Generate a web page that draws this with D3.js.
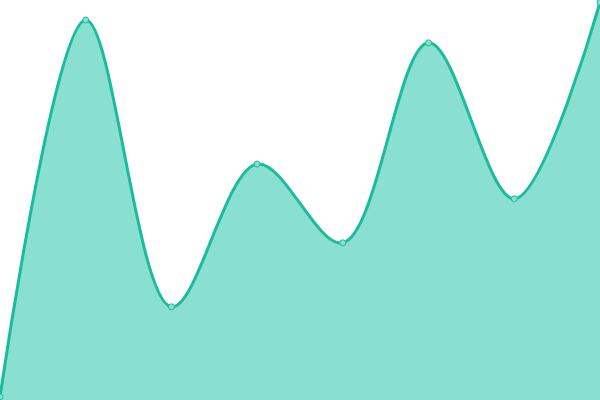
<!DOCTYPE html>
<html lang="en">
	<head>
		<meta charset="UTF-8" />
		<script src="https://d3js.org/d3.v7.min.js"></script>
		<title>Area</title>
		<style>
			body { margin: 0; }
			svg { display: block; }
		</style>
	</head>
	<body>
		<svg width="600" height="400"></svg>
		<script>
			const labels = ["A", "B", "C", "D", "E", "F", "G", "H"];
			const values = [0.8, 95, 23.3, 59, 39.3, 89.3, 50.3, 99.4];

			const width = 600, height = 400;
			const svg = d3.select("svg");

			const x = d3.scalePoint().domain(labels).range([0, width]);
			const y = d3.scaleLinear().domain([0, 100]).range([height, 0]);

			const data = labels.map((l, i) => ({ l, v: values[i] }));

			const area = d3.area()
				.x(d => x(d.l))
				.y0(height)
				.y1(d => y(d.v))
				.curve(d3.curveCatmullRom);

			const line = d3.line()
				.x(d => x(d.l))
				.y(d => y(d.v))
				.curve(d3.curveCatmullRom);

			svg.append("path")
				.datum(data)
				.attr("d", area)
				.attr("fill", "#89e0d0");

			svg.append("path")
				.datum(data)
				.attr("d", line)
				.attr("fill", "none")
				.attr("stroke", "#1abc9c")
				.attr("stroke-width", 3);

			svg.selectAll("circle")
				.data(data)
				.enter()
				.append("circle")
				.attr("cx", d => x(d.l))
				.attr("cy", d => y(d.v))
				.attr("r", 3)
				.attr("fill", "#89e0d0")
				.attr("stroke", "#1abc9c")
				.attr("stroke-width", 1);
		</script>
	</body>
</html>
